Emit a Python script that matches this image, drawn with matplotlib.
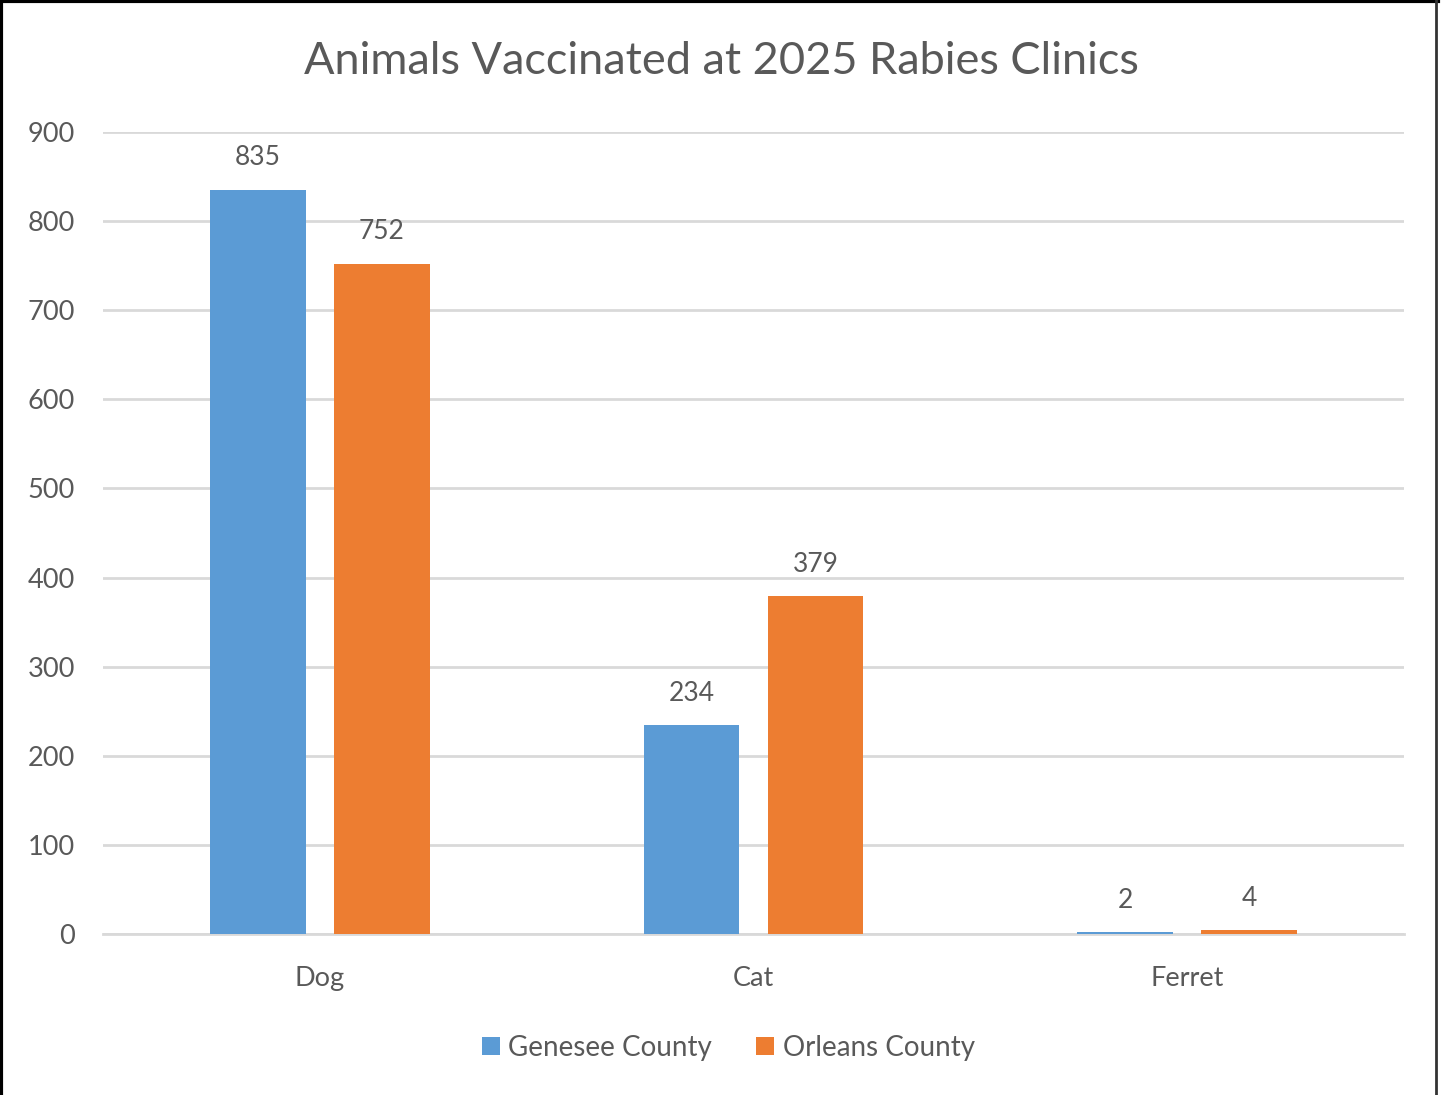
import matplotlib.pyplot as plt
from matplotlib.lines import Line2D
import numpy as np

# chart data
animals = ["Dog", "Cat", "Ferret"]
genesee = [835, 234, 2]
orleans = [752, 379, 4]
series_names = ["Genesee County", "Orleans County"]
yticks = [0, 100, 200, 300, 400, 500, 600, 700, 800, 900]

blue = "#5B9BD5"
orange = "#ED7D31"
txt = "#595959"

plt.rcParams['font.family'] = ['Lato', 'DejaVu Sans']

fig = plt.figure(figsize=(14.42, 10.95), dpi=100)
ax = fig.add_axes([0.0714, 0.147, 0.9022, 0.7325])

x = np.arange(len(animals))
w = 0.221
off = 0.143
b1 = ax.bar(x - off, genesee, w, color=blue, label=series_names[0], zorder=3)
b2 = ax.bar(x + off, orleans, w, color=orange, label=series_names[1], zorder=3)

for bars in (b1, b2):
    for b in bars:
        h = b.get_height()
        ax.annotate(str(int(h)), (b.get_x() + b.get_width() / 2, h),
                    xytext=(0, 14), textcoords="offset points",
                    ha="center", va="bottom", fontsize=19, color=txt)

ax.set_xlim(-0.5, 2.5)
ax.set_ylim(0, 900)
ax.set_yticks(yticks)
ax.set_xticks(x)
ax.set_xticklabels(animals)
ax.tick_params(axis="both", length=0, labelsize=19.5, labelcolor=txt)
ax.tick_params(axis="y", pad=20)
ax.tick_params(axis="x", pad=23)
ax.yaxis.grid(True, color="#d9d9d9", linewidth=2, zorder=0)
ax.set_axisbelow(True)
for s in ax.spines.values():
    s.set_visible(False)
ax.spines["bottom"].set_visible(True)
ax.spines["bottom"].set_color("#d9d9d9")
ax.spines["bottom"].set_linewidth(2)

fig.text(0.5, 0.944, "Animals Vaccinated at 2025 Rabies Clinics",
         ha="center", va="center", fontsize=32.5, color=txt)

fig.legend(loc="center", bbox_to_anchor=(0.505, 0.043), ncol=2, frameon=False,
           fontsize=20, labelcolor=txt, handlelength=0.65, handleheight=0.65,
           handletextpad=0.3, columnspacing=1.6)

# outer border: left, top, right
fig.add_artist(Line2D([0.001, 0.001], [0, 1], transform=fig.transFigure,
                      color="black", linewidth=3))
fig.add_artist(Line2D([0, 0.997], [0.999, 0.999], transform=fig.transFigure,
                      color="black", linewidth=3))
fig.add_artist(Line2D([0.9955, 0.9955], [0, 1], transform=fig.transFigure,
                      color="#333333", linewidth=2))

fig.savefig("out.png", dpi=100)
